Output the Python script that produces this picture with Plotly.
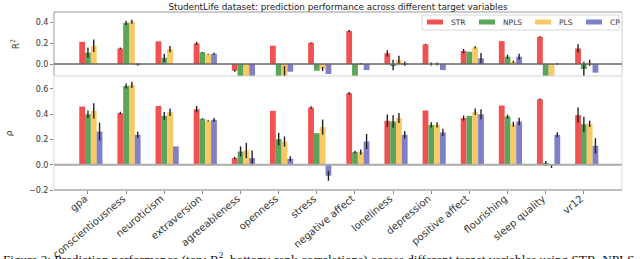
import plotly.graph_objects as go

categories = ["gpa", "conscientiousness", "neuroticism", "extraversion", "agreeableness",
              "openness", "stress", "negative affect", "loneliness", "depression",
              "positive affect", "flourishing", "sleep quality", "vr12"]
methods = ["STR", "NPLS", "PLS", "CP"]
colors = ["#f05252", "#5aa55a", "#fac864", "#8080c8"]

# top panel: R^2
r2_str = [0.214, 0.150, 0.218, 0.198, -0.064, 0.176, 0.205, 0.317, 0.103, 0.189, 0.125, 0.220, 0.262, 0.150]
r2_npls = [0.110, 0.396, 0.060, 0.112, -0.150, -0.150, -0.064, -0.150, -0.010, 0.000, 0.118, 0.070, -0.150, -0.048]
r2_pls = [0.176, 0.406, 0.144, 0.093, -0.150, -0.130, -0.048, 0.004, 0.040, 0.000, 0.160, 0.022, -0.150, 0.012]
r2_cp = [0.000, -0.003, 0.000, 0.099, -0.150, -0.074, -0.096, -0.058, 0.004, -0.058, 0.055, 0.070, 0.000, -0.083]
r2_str_err = [0.0, 0.01, 0.0, 0.015, 0.01, 0.0, 0.005, 0.01, 0.03, 0.005, 0.02, 0.0, 0.005, 0.04]
r2_npls_err = [0.05, 0.02, 0.04, 0.005, 0.0, 0.0, 0.0, 0.0, 0.05, 0.015, 0.0, 0.02, 0.0, 0.07]
r2_pls_err = [0.06, 0.02, 0.03, 0.005, 0.0, 0.11, 0.02, 0.005, 0.04, 0.015, 0.01, 0.01, 0.0, 0.03]
r2_cp_err = [0.0, 0.012, 0.0, 0.01, 0.0, 0.0, 0.0, 0.0, 0.02, 0.0, 0.05, 0.03, 0.01, 0.0]

# bottom panel: rho
rho_str = [0.461, 0.409, 0.466, 0.440, 0.053, 0.427, 0.453, 0.567, 0.348, 0.430, 0.370, 0.469, 0.519, 0.393]
rho_npls = [0.400, 0.624, 0.387, 0.364, 0.105, 0.203, 0.250, 0.100, 0.343, 0.316, 0.387, 0.382, 0.010, 0.321]
rho_pls = [0.427, 0.632, 0.416, 0.348, 0.113, 0.184, 0.298, 0.100, 0.370, 0.316, 0.420, 0.321, -0.010, 0.324]
rho_cp = [0.263, 0.237, 0.145, 0.356, 0.053, 0.047, -0.087, 0.184, 0.237, 0.256, 0.400, 0.343, 0.237, 0.150]
rho_str_err = [0.0, 0.01, 0.0, 0.025, 0.01, 0.0, 0.01, 0.01, 0.05, 0.0, 0.02, 0.0, 0.005, 0.06]
rho_npls_err = [0.03, 0.02, 0.03, 0.005, 0.04, 0.05, 0.0, 0.01, 0.05, 0.02, 0.0, 0.015, 0.02, 0.06]
rho_pls_err = [0.06, 0.025, 0.03, 0.005, 0.06, 0.04, 0.06, 0.02, 0.04, 0.02, 0.025, 0.02, 0.015, 0.025]
rho_cp_err = [0.07, 0.025, 0.0, 0.015, 0.06, 0.02, 0.04, 0.06, 0.03, 0.03, 0.04, 0.03, 0.02, 0.06]

r2_vals = [r2_str, r2_npls, r2_pls, r2_cp]
r2_errs = [r2_str_err, r2_npls_err, r2_pls_err, r2_cp_err]
rho_vals = [rho_str, rho_npls, rho_pls, rho_cp]
rho_errs = [rho_str_err, rho_npls_err, rho_pls_err, rho_cp_err]

W = 0.152
xs = list(range(len(categories)))
FONT = "DejaVu Sans"

# plot area in pixels (for placing the hand-drawn legend and caption)
L, R, T, B = 54, 622, 12, 190
def px(xp):
    return (xp - L) / (R - L)
def py(yp):
    return (B - yp) / (B - T)

fig = go.Figure()
for k, m in enumerate(methods):
    for vals, errs, xa, ya in [(r2_vals, r2_errs, "x", "y"),
                               (rho_vals, rho_errs, "x2", "y2")]:
        fig.add_trace(go.Bar(
            x=xs, y=vals[k], width=W, offset=(k - 1.5) * W,
            marker=dict(color=colors[k], line=dict(width=0)),
            error_y=dict(type="data", array=errs[k], color="#222222", thickness=1.4, width=0),
            name=m, legendgroup=m, showlegend=False, xaxis=xa, yaxis=ya,
        ))

xrange = [-0.89, 14.0]
tick_font = dict(family=FONT, size=8, color="#333333")
fig.update_layout(
    width=640, height=259,
    margin=dict(l=L, r=640 - R, t=T, b=259 - B, autoexpand=False),
    paper_bgcolor="white", plot_bgcolor="white",
    barmode="overlay",
    title=dict(text="StudentLife dataset: prediction performance across different target variables",
               x=(L + R) / 2 / 640, xanchor="center", y=1 - 7 / 259, yanchor="middle",
               font=dict(family=FONT, size=8.8, color="#222222")),
    xaxis=dict(domain=[0, 1], anchor="y", range=xrange, showticklabels=False, ticks="",
               showgrid=False, zeroline=False, showline=False, automargin=False),
    xaxis2=dict(domain=[0, 1], anchor="y2", range=xrange, tickvals=xs, ticktext=categories,
                tickangle=-40, ticks="outside", ticklen=3, tickcolor="#888888",
                ticklabelshift=-3, ticklabelstandoff=-5, automargin=False,
                tickfont=dict(family=FONT, size=10, color="#333333"),
                showgrid=False, zeroline=False, showline=False),
    yaxis=dict(domain=[(B - 76) / (B - T), 1], anchor="x", range=[-0.115, 0.5],
               tickvals=[0, 0.2, 0.4], ticktext=["0.0", "0.2", "0.4"],
               ticks="outside", ticklen=3, tickcolor="#888888", tickfont=tick_font,
               showgrid=False, zeroline=False, showline=False, automargin=False,
               title=dict(text="R<sup>2</sup>", font=dict(family=FONT, size=9, color="#333333"), standoff=14)),
    yaxis2=dict(domain=[0, (B - 77) / (B - T)], anchor="x2", range=[-0.2, 0.695],
                tickvals=[-0.2, 0, 0.2, 0.4, 0.6], ticktext=["\u22120.2", "0.0", "0.2", "0.4", "0.6"],
                ticks="outside", ticklen=3, tickcolor="#888888", tickfont=tick_font,
                showgrid=False, zeroline=False, showline=False, automargin=False,
                title=dict(text="\u03c1", font=dict(family=FONT, size=9, color="#333333"), standoff=14)),
    showlegend=False,
)

shapes = []
# top panel box
shapes.append(dict(type="line", xref="x domain", yref="y domain", x0=0, x1=1, y0=1, y1=1,
                   line=dict(color="#999999", width=1), layer="above"))
shapes.append(dict(type="line", xref="x domain", yref="y domain", x0=0, x1=0, y0=0, y1=1,
                   line=dict(color="#999999", width=1), layer="above"))
shapes.append(dict(type="line", xref="x domain", yref="y domain", x0=1, x1=1, y0=0, y1=1,
                   line=dict(color="#cccccc", width=1), layer="above"))
shapes.append(dict(type="line", xref="x domain", yref="y domain", x0=0, x1=1, y0=0, y1=0,
                   line=dict(color="#d0d0d0", width=1), layer="above"))
shapes.append(dict(type="line", xref="x domain", yref="y", x0=0, x1=1, y0=0, y1=0,
                   line=dict(color="#666666", width=1.4), layer="above"))
# bottom panel
shapes.append(dict(type="line", xref="x2 domain", yref="y2 domain", x0=0, x1=0, y0=0, y1=1,
                   line=dict(color="#dddddd", width=1), layer="above"))
shapes.append(dict(type="line", xref="x2 domain", yref="y2 domain", x0=1, x1=1, y0=0, y1=1,
                   line=dict(color="#dddddd", width=1), layer="above"))
shapes.append(dict(type="line", xref="x2 domain", yref="y2 domain", x0=0, x1=1, y0=0, y1=0,
                   line=dict(color="#aaaaaa", width=1.4), layer="above"))
shapes.append(dict(type="line", xref="x2 domain", yref="y2", x0=0, x1=1, y0=0, y1=0,
                   line=dict(color="#aaaaaa", width=2), layer="above"))

# legend (box, colour patches, labels)
shapes.append(dict(type="rect", xref="paper", yref="paper",
                   x0=px(422), x1=px(619), y0=py(30), y1=py(15),
                   line=dict(color="#d8d8d8", width=1), fillcolor="rgba(255,255,255,0.9)", layer="above"))
patch_x = [427, 479, 535, 586]
for k, m in enumerate(methods):
    shapes.append(dict(type="rect", xref="paper", yref="paper",
                       x0=px(patch_x[k]), x1=px(patch_x[k] + 16), y0=py(24.5), y1=py(19.5),
                       line=dict(width=0), fillcolor=colors[k], layer="above"))
    fig.add_annotation(text=m, xref="paper", yref="paper", x=px(patch_x[k] + 22), y=py(22.3),
                       xanchor="left", yanchor="middle", showarrow=False,
                       font=dict(family=FONT, size=7.5, color="#333333"))
fig.update_layout(shapes=shapes)

fig.add_annotation(
    text="Figure 2: Prediction performance (top: R<sup>2</sup>, bottom: rank correlations) across different target variables using STR, NPLS, PLS and CP.",
    xref="paper", yref="paper", x=px(1), xanchor="left", y=py(248), yanchor="top",
    showarrow=False, align="left",
    font=dict(family="Liberation Serif", size=13.2, color="#111111"),
)

# remove the browser's default 8px page margin so the figure sits at the window origin
fig.write_html("out.html", config={"displayModeBar": False},
               post_script="document.body.style.margin='0px';")
